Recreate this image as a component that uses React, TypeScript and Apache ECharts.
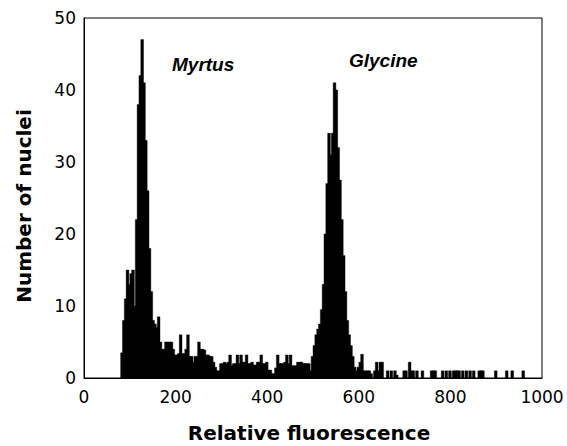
import React, { useEffect, useRef } from "react";
import * as echarts from "echarts";

// Histogram channels: bin i covers [BIN_START + i*BIN_WIDTH, BIN_START + (i+1)*BIN_WIDTH)
const BIN_START = 80;
const BIN_WIDTH = 4;

// Myrtus peak region (80..164)
const countsMyrtus = [
  3.5, 8, 11, 15, 13, 14.5, 15, 10, 22, 38, 42, 47, 41, 33, 26, 18, 12, 8, 7.5, 7, 8.5,
];
// Valley between peaks (164..492)
const countsValley = [
  5, 4, 4, 5, 5, 5, 5, 4, 3.2, 3.2, 3.4, 6, 3.4, 3.4, 4, 6, 3, 3, 2.2, 3,
  3, 5, 4, 4, 3.9, 3.2, 3.2, 3, 3, 2.2, 1.5, 1, 1, 2, 2, 2.2, 2, 2.2, 3.2, 1.7,
  2, 2, 3.2, 2, 3.2, 2.2, 2.2, 3.2, 2, 2, 2.2, 1.8, 1.8, 2.2, 2.2, 3.2, 2, 2, 2.2, 1.1,
  1.1, 0.6, 0.6, 1.4, 3.2, 2, 2, 2, 2.2, 3.2, 2, 3.2, 1.7, 1.7, 1.7, 2.2, 2.2, 2.2, 2, 2,
  2, 2,
];
// Glycine peak region (492..600)
const countsGlycine = [
  1, 3, 4.5, 6, 6.8, 7.5, 9.5, 13, 20, 27, 34, 31, 34, 41, 40, 32, 27.5, 22, 17, 12,
  8, 6, 4.5, 3, 1.5, 1, 1.5,
];
// Tail (600..964)
const countsTail = [
  2.2, 3.3, 1, 1, 1, 1, 0.6, 0, 1, 2.2, 1, 2.2, 2.2, 0, 0, 1, 0, 1, 0, 1,
  0.4, 0, 0, 0, 1, 1, 0, 2.2, 1, 1, 0, 1, 0, 0, 1, 0, 0, 0, 0, 1,
  1, 1, 0, 0, 0, 1, 0, 1, 0, 1, 0, 1, 1, 1, 1, 0, 1, 0, 1, 0,
  1, 0, 1, 0, 0, 1, 1, 1, 0, 0, 0, 0, 0, 0, 1, 0, 0, 0, 0, 0,
  1, 0, 0, 1, 0, 0, 0, 0, 0, 1, 0,
];

const counts = [...countsMyrtus, ...countsValley, ...countsGlycine, ...countsTail];

const X_MIN = 0;
const X_MAX = 1000;
const X_INTERVAL = 200;
const Y_MIN = 0;
const Y_MAX = 50;
const Y_INTERVAL = 10;

const X_TITLE = "Relative fluorescence";
const Y_TITLE = "Number of nuclei";
const LABEL_MYRTUS = "Myrtus";
const LABEL_GLYCINE = "Glycine";

export default function App() {
  const ref = useRef<HTMLDivElement>(null);

  useEffect(() => {
    if (!ref.current) return;
    const chart = echarts.init(ref.current, null, { renderer: "svg" });
    const data = counts.map((c, i) => [BIN_START + i * BIN_WIDTH, c]);

    const tickFont = {
      color: "#000",
      fontFamily: "DejaVu Sans",
      fontSize: 17,
      formatter: (v: number) => String(v),
    };

    chart.setOption({
      animation: false,
      backgroundColor: "#fff",
      grid: {
        left: 84,
        right: 25,
        top: 18,
        bottom: 68,
        show: true,
        borderColor: "#000",
        borderWidth: 1,
        backgroundColor: "transparent",
      },
      xAxis: {
        type: "value",
        min: X_MIN,
        max: X_MAX,
        interval: X_INTERVAL,
        axisLine: { show: true, lineStyle: { color: "#000", width: 1 } },
        axisTick: { show: false },
        splitLine: { show: false },
        axisLabel: { ...tickFont, margin: 10 },
      },
      yAxis: {
        type: "value",
        min: Y_MIN,
        max: Y_MAX,
        interval: Y_INTERVAL,
        axisLine: { show: true, lineStyle: { color: "#000", width: 1 } },
        axisTick: { show: false },
        splitLine: { show: false },
        axisLabel: { ...tickFont, margin: 8 },
      },
      series: [
        {
          type: "custom",
          clip: true,
          encode: { x: 0, y: 1 },
          data,
          renderItem: (params: any, api: any) => {
            const x0 = api.value(0);
            const y = api.value(1);
            if (!(y > 0)) return null;
            const pTop = api.coord([x0, y]);
            const pBot = api.coord([x0 + BIN_WIDTH, 0]);
            return {
              type: "rect",
              shape: {
                x: pTop[0],
                y: pTop[1],
                width: pBot[0] - pTop[0] + 0.9,
                height: pBot[1] - pTop[1],
              },
              style: { fill: "#000", stroke: "#000", lineWidth: 0.4 },
            };
          },
        },
      ],
      graphic: [
        {
          type: "text",
          x: 24,
          y: 206,
          rotation: Math.PI / 2,
          style: {
            text: Y_TITLE,
            font: 'bold 20px "DejaVu Sans"',
            fill: "#000",
            align: "center",
            verticalAlign: "middle",
          },
        },
        {
          type: "text",
          x: 309,
          y: 433,
          style: {
            text: X_TITLE,
            font: 'bold 20px "DejaVu Sans"',
            fill: "#000",
            align: "center",
            verticalAlign: "middle",
          },
        },
        {
          type: "text",
          x: 172,
          y: 64,
          style: {
            text: LABEL_MYRTUS,
            font: 'italic bold 19px "Liberation Sans"',
            fill: "#000",
            align: "left",
            verticalAlign: "middle",
          },
        },
        {
          type: "text",
          x: 349,
          y: 60,
          style: {
            text: LABEL_GLYCINE,
            font: 'italic bold 19px "Liberation Sans"',
            fill: "#000",
            align: "left",
            verticalAlign: "middle",
          },
        },
      ],
    });

    return () => chart.dispose();
  }, []);

  return (
    <div
      ref={ref}
      style={{ position: "fixed", left: 0, top: 0, width: 567, height: 446 }}
    />
  );
}
